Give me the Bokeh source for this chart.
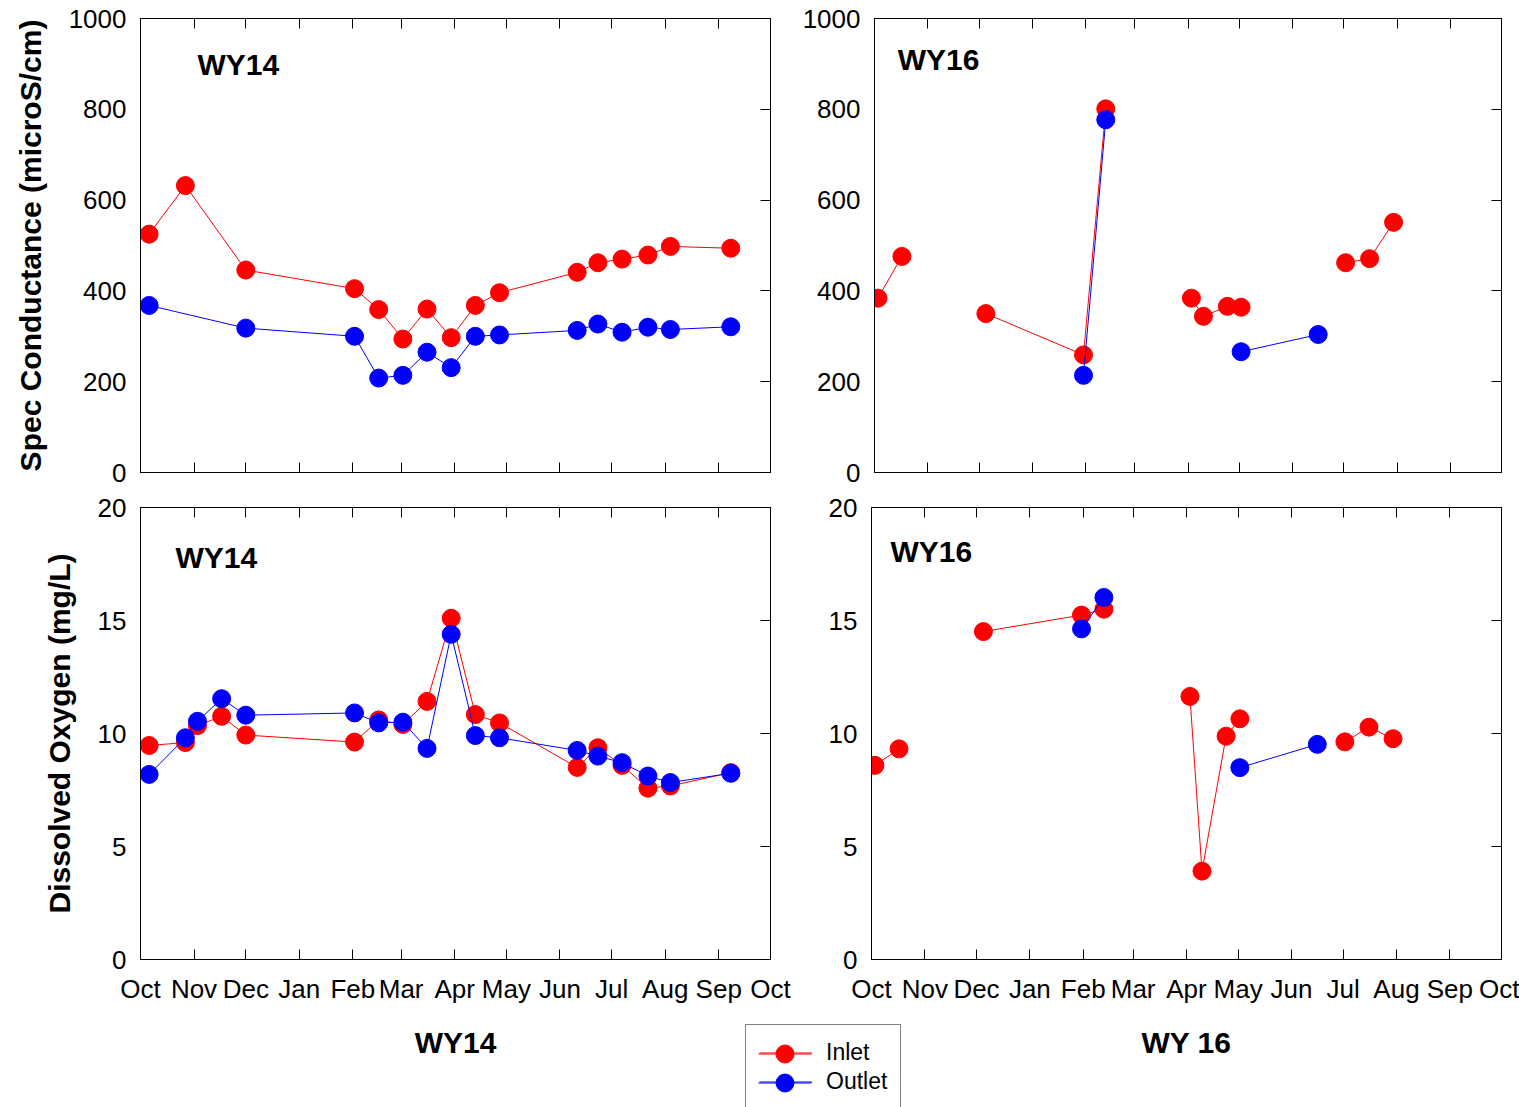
import pandas as pd
from bokeh.plotting import figure
from bokeh.models import (Range1d, LinearAxis, FixedTicker, CustomJSTickFormatter,
                          Label, Legend, LegendItem, ColumnDataSource)
from bokeh.layouts import column, row
from bokeh.embed import file_html
from bokeh.resources import INLINE

NaN = float("nan")

# ---------------- data ----------------
MONTHS = ["Oct", "Nov", "Dec", "Jan", "Feb", "Mar", "Apr", "May", "Jun",
          "Jul", "Aug", "Sep", "Oct"]

# WY14 specific conductance (microS/cm)
sc14_inlet_dates = ["2013-10-06", "2013-10-27", "2013-12-01", "2014-02-02", "2014-02-16",
                    "2014-03-02", "2014-03-16", "2014-03-30", "2014-04-13", "2014-04-27",
                    "2014-06-11", "2014-06-23", "2014-07-07", "2014-07-22", "2014-08-04",
                    "2014-09-08"]
sc14_inlet = [525, 632, 446, 405, 359, 294, 360, 297, 368, 396, 441, 462, 470, 479, 498, 494]
sc14_outlet_dates = ["2013-10-06", "2013-12-01", "2014-02-02", "2014-02-16",
                     "2014-03-02", "2014-03-16", "2014-03-30", "2014-04-13", "2014-04-27",
                     "2014-06-11", "2014-06-23", "2014-07-07", "2014-07-22", "2014-08-04",
                     "2014-09-08"]
sc14_outlet = [368, 318, 300, 208, 214, 265, 231, 300, 303, 313, 327, 309, 320, 315, 321]

# WY14 dissolved oxygen (mg/L)
do14_dates = ["2013-10-06", "2013-10-27", "2013-11-03", "2013-11-17", "2013-12-01",
              "2014-02-02", "2014-02-16", "2014-03-02", "2014-03-16", "2014-03-30",
              "2014-04-13", "2014-04-27", "2014-06-11", "2014-06-23", "2014-07-07",
              "2014-07-22", "2014-08-04", "2014-09-08"]
do14_inlet = [9.47, 9.6, 10.35, 10.76, 9.93, 9.62, 10.6, 10.4, 11.42, 15.1,
              10.84, 10.47, 8.5, 9.37, 8.59, 7.58, 7.68, 8.27]
do14_outlet = [8.19, 9.81, 10.54, 11.54, 10.81, 10.91, 10.47, 10.5, 9.34, 14.39,
               9.91, 9.81, 9.25, 9.0, 8.71, 8.12, 7.83, 8.24]

# WY16 (NaN = no sample, breaks the line)
wy16_dates = ["2015-10-03", "2015-10-17", "2015-11-16", "2015-12-05", "2016-01-31",
              "2016-02-13", "2016-03-15", "2016-04-03", "2016-04-10", "2016-04-24",
              "2016-05-02", "2016-06-16", "2016-07-02", "2016-07-16", "2016-07-30"]
sc16_inlet = [384, 476, NaN, 350, 259, 801, NaN, 384, 344, 366, 364, NaN, 462, 471, 551]
sc16_outlet = [NaN, NaN, NaN, NaN, 214, 777, NaN, NaN, NaN, NaN, 266, 304, NaN, NaN, NaN]
do16_inlet = [8.59, 9.32, NaN, 14.51, 15.24, 15.5, NaN, 11.64, 3.91, 9.88, 10.65, NaN,
              9.63, 10.28, 9.77]
do16_outlet = [NaN, NaN, NaN, NaN, 14.63, 16.02, NaN, NaN, NaN, NaN, 8.49, 9.52,
               NaN, NaN, NaN]

WY14_START = "2013-10-01"
WY16_START = "2015-10-01"

# ---------------- styling ----------------
FONT = "Liberation Sans"
RED = "#ff0000"
BLUE = "#0000ff"
TICK_LEN = 10
MARKER = 18


def days_from(dates, start):
    s = pd.Timestamp(start)
    return [(pd.Timestamp(d) - s).days for d in dates]


def month_ticks(start):
    s = pd.Timestamp(start)
    return [int((s + pd.DateOffset(months=i) - s).days) for i in range(13)]


def blank_axis(ticks):
    return LinearAxis(ticker=FixedTicker(ticks=ticks, minor_ticks=[]),
                      formatter=CustomJSTickFormatter(code="return ''"),
                      major_tick_in=TICK_LEN, major_tick_out=0,
                      minor_tick_in=0, minor_tick_out=0,
                      major_label_standoff=0, major_label_text_font_size="1px",
                      axis_line_color="black", axis_line_width=1)


def panel(width, height, bl, br, bt, bb, wy_start, ymax, yticks, ylabel, xlabels):
    mt = month_ticks(wy_start)
    p = figure(width=width, height=height,
               x_range=Range1d(0, mt[-1]), y_range=Range1d(0, ymax),
               x_axis_type=None, y_axis_type=None,
               output_backend="svg", toolbar_location=None,
               min_border_left=bl, min_border_right=br,
               min_border_top=bt, min_border_bottom=bb)
    p.outline_line_color = "black"
    p.outline_line_width = 1
    p.background_fill_color = "white"
    p.border_fill_color = "white"

    ya = LinearAxis(ticker=FixedTicker(ticks=yticks, minor_ticks=[]),
                    major_tick_in=0, major_tick_out=0, minor_tick_in=0, minor_tick_out=0,
                    major_label_standoff=14, major_label_text_font=FONT,
                    major_label_text_font_size="26px", major_label_text_color="black",
                    axis_line_color="black")
    if ylabel:
        ya.axis_label = ylabel
        ya.axis_label_text_font = FONT
        ya.axis_label_text_font_size = "30px"
        ya.axis_label_text_font_style = "bold"
        ya.axis_label_text_color = "black"
        ya.axis_label_standoff = 19
    p.add_layout(ya, "left")
    p.add_layout(blank_axis(yticks), "right")
    p.add_layout(blank_axis(mt), "above")

    if xlabels:
        xa = LinearAxis(ticker=FixedTicker(ticks=mt, minor_ticks=[]),
                        major_label_overrides={t: m for t, m in zip(mt, MONTHS)},
                        major_tick_in=TICK_LEN, major_tick_out=0,
                        minor_tick_in=0, minor_tick_out=0,
                        major_label_standoff=14, major_label_text_font=FONT,
                        major_label_text_font_size="26px", major_label_text_color="black",
                        axis_line_color="black")
        p.add_layout(xa, "below")
    else:
        p.add_layout(blank_axis(mt), "below")
    return p


def series(p, x, y, color):
    src = ColumnDataSource(dict(x=x, y=y))
    p.line("x", "y", source=src, line_color=color, line_width=1)
    p.scatter("x", "y", source=src, size=MARKER, fill_color=color, line_color=color)


def tag(p, x, y, text):
    p.add_layout(Label(x=x, y=y, text=text, text_font=FONT, text_font_size="30px",
                       text_font_style="bold", text_color="black",
                       text_align="left", text_baseline="middle"))


SC_TICKS = [0, 200, 400, 600, 800, 1000]
DO_TICKS = [0, 5, 10, 15, 20]

# top-left
tl = panel(799, 489, 140, 29, 18, 17, WY14_START, 1000, SC_TICKS,
           "Spec Conductance (microS/cm)", False)
series(tl, days_from(sc14_inlet_dates, WY14_START), sc14_inlet, RED)
series(tl, days_from(sc14_outlet_dates, WY14_START), sc14_outlet, BLUE)
tag(tl, 33, 899, "WY14")

# top-right
tr = panel(720, 489, 72, 18, 18, 17, WY16_START, 1000, SC_TICKS, None, False)
x16 = days_from(wy16_dates, WY16_START)
series(tr, x16, sc16_inlet, RED)
series(tr, x16, sc16_outlet, BLUE)
tag(tr, 13.5, 909, "WY16")

# bottom-left
bl = panel(799, 517, 140, 29, 18, 45, WY14_START, 20, DO_TICKS,
           "Dissolved Oxygen (mg/L)", True)
xd14 = days_from(do14_dates, WY14_START)
series(bl, xd14, do14_inlet, RED)
series(bl, xd14, do14_outlet, BLUE)
tag(bl, 20.3, 17.8, "WY14")

# bottom-right
br = panel(720, 517, 72, 18, 18, 45, WY16_START, 20, DO_TICKS, None, True)
series(br, x16, do16_inlet, RED)
series(br, x16, do16_outlet, BLUE)
tag(br, 11.0, 18.05, "WY16")

# bottom strip with the WY titles and the legend
STRIP_W, STRIP_H = 1519, 101
strip = figure(width=STRIP_W, height=STRIP_H, x_range=Range1d(0, STRIP_W),
               y_range=Range1d(0, STRIP_H), x_axis_type=None, y_axis_type=None,
               output_backend="svg", toolbar_location=None, min_border=0)
strip.outline_line_color = None
strip.background_fill_color = "white"
strip.border_fill_color = "white"

for cx, txt in [(140 + 315, "WY14"), (871 + 315, "WY 16")]:
    strip.add_layout(Label(x=cx, y=65, text=txt, text_font=FONT, text_font_size="30px",
                           text_font_style="bold", text_color="black",
                           text_align="center", text_baseline="middle"))

# legend geometry (decoration): box left edge, box top below strip top, paddings
LEG_X, LEG_TOP = 745, 20
PAD, GW, GH = 13, 53, 29
gx0, gx1 = LEG_X + PAD, LEG_X + PAD + GW
items = []
for i, (name, color) in enumerate([("Inlet", RED), ("Outlet", BLUE)]):
    gy = STRIP_H - LEG_TOP - PAD - GH / 2 - i * GH
    rl = strip.line(x=[gx0, gx1], y=[gy, gy], line_color=color, line_width=1)
    rp = strip.scatter(x=[(gx0 + gx1) / 2], y=[gy], size=MARKER,
                       fill_color=color, line_color=color)
    items.append(LegendItem(label=name, renderers=[rl, rp]))

legend = Legend(items=items,
                location=(LEG_X, STRIP_H - LEG_TOP - (2 * PAD + 2 * GH)),
                orientation="vertical", padding=PAD, margin=0, spacing=0,
                glyph_width=GW, glyph_height=GH, label_height=GH, label_standoff=14,
                label_text_font=FONT, label_text_font_size="23px",
                label_text_color="black",
                border_line_color="black", border_line_width=1,
                background_fill_alpha=0.0)
strip.add_layout(legend)

layout = column(row(tl, tr), row(bl, br), strip)

open("out.html", "w").write(file_html(layout, INLINE))
